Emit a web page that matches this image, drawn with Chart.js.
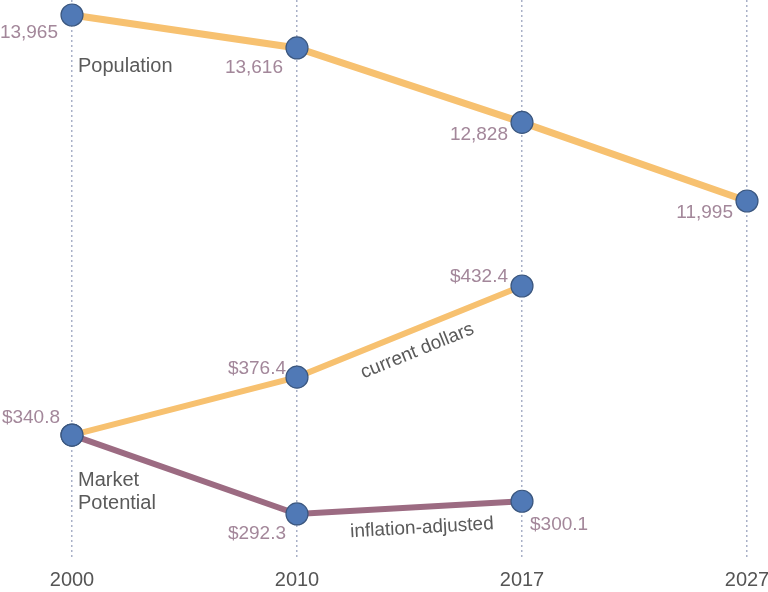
<!DOCTYPE html>
<html>
<head>
<meta charset="utf-8">
<script src="https://cdn.jsdelivr.net/npm/chart.js@4"></script>
<style>
  html, body { margin: 0; padding: 0; background: #fff; }
  #wrap { width: 768px; height: 592px; }
</style>
</head>
<body>
<div id="wrap"><canvas id="myChart"></canvas></div>
<script>
const years = ["2000", "2010", "2017", "2027"];
const population = [13965, 13616, 12828, 11995];
const currentDollars = [340.8, 376.4, 432.4, null];
const inflationAdjusted = [340.8, 292.3, 300.1, null];

// label placement for each point: [dx, dy, align]
const popLabelPos = [[-14, 18, "right"], [-14, 20, "right"], [-14, 12, "right"], [-14, 12, "right"]];
const curLabelPos = [[-12, -17, "right"], [-11, -8, "right"], [-14, -9, "right"]];
const infLabelPos = [null, [-11, 20, "right"], [8, 23, "left"]];

const valueColor = "#a3879a";
const noteColor = "#5a5a5a";
const valueFont = "19px 'Liberation Sans', Arial, sans-serif";
const noteFont = "20px 'Liberation Sans', Arial, sans-serif";

function fmtPop(v) { return v.toLocaleString("en-US"); }
function fmtMoney(v) { return "$" + v.toFixed(1); }

const labelPlugin = {
  id: "labels",
  afterDatasetsDraw(chart) {
    const ctx = chart.ctx;
    ctx.save();
    ctx.font = valueFont;
    ctx.textBaseline = "middle";
    ctx.fillStyle = valueColor;

    const groups = [
      [0, population, popLabelPos, fmtPop],
      [1, currentDollars, curLabelPos, fmtMoney],
      [2, inflationAdjusted, infLabelPos, fmtMoney],
    ];
    groups.forEach(function (g) {
      const meta = chart.getDatasetMeta(g[0]);
      g[1].forEach(function (v, i) {
        const pos = g[2][i];
        if (v === null || !pos) return;
        const pt = meta.data[i];
        ctx.textAlign = pos[2];
        ctx.fillText(g[3](v), pt.x + pos[0], pt.y + pos[1]);
      });
    });

    // annotations
    const popMeta = chart.getDatasetMeta(0);
    const curMeta = chart.getDatasetMeta(1);
    const infMeta = chart.getDatasetMeta(2);
    ctx.font = noteFont;
    ctx.fillStyle = noteColor;
    ctx.textAlign = "left";
    ctx.fillText("Population", popMeta.data[0].x + 6, popMeta.data[0].y + 51);
    ctx.fillText("Market", curMeta.data[0].x + 6, curMeta.data[0].y + 45);
    ctx.fillText("Potential", curMeta.data[0].x + 6, curMeta.data[0].y + 68);

    function along(text, a, b, offset, t) {
      const ang = Math.atan2(b.y - a.y, b.x - a.x);
      const mx = a.x + (b.x - a.x) * t;
      const my = a.y + (b.y - a.y) * t;
      ctx.save();
      ctx.translate(mx - Math.sin(ang) * offset, my + Math.cos(ang) * offset);
      ctx.rotate(ang);
      ctx.textAlign = "center";
      ctx.fillText(text, 0, 0);
      ctx.restore();
    }
    ctx.font = valueFont;
    along("current dollars", curMeta.data[1], curMeta.data[2], 21, 0.5);
    along("inflation-adjusted", infMeta.data[1], infMeta.data[2], 21, 0.55);
    ctx.restore();
  },
};

const pointStyle = {
  pointRadius: 11,
  pointHoverRadius: 11,
  pointBackgroundColor: "#5079b6",
  pointBorderColor: "#3b577f",
  pointBorderWidth: 1.2,
};

const ctx = document.getElementById("myChart").getContext("2d");
new Chart(ctx, {
  type: "line",
  data: {
    labels: years,
    datasets: [
      Object.assign({
        label: "Population",
        data: population,
        yAxisID: "yPop",
        borderColor: "#f7c170",
        borderWidth: 7,
      }, pointStyle),
      Object.assign({
        label: "current dollars",
        data: currentDollars,
        yAxisID: "yMoney",
        borderColor: "#f7c170",
        borderWidth: 6,
      }, pointStyle),
      Object.assign({
        label: "inflation-adjusted",
        data: inflationAdjusted,
        yAxisID: "yMoney",
        borderColor: "#9c6b82",
        borderWidth: 6,
      }, pointStyle),
    ],
  },
  options: {
    responsive: true,
    maintainAspectRatio: false,
    animation: false,
    clip: false,
    layout: { autoPadding: false, padding: { left: 72, right: 21, top: 0, bottom: 0 } },
    plugins: { legend: { display: false }, tooltip: { enabled: false } },
    scales: {
      x: {
        type: "category",
        offset: false,
        afterFit: function (scale) {
          scale.height = 32;
          scale.paddingLeft = 0;
          scale.paddingRight = 0;
        },
        grid: {
          color: "rgba(140,150,180,0.75)",
          lineWidth: 1.5,
          drawTicks: false,
        },
        border: { display: false, dash: [2, 3] },
        ticks: {
          color: "#555",
          padding: 8,
          font: { family: "'Liberation Sans', Arial, sans-serif", size: 20 },
          maxRotation: 0,
        },
      },
      yPop: { display: false, min: 8192, max: 14124 },
      yMoney: { display: false, min: 264, max: 608.2 },
    },
  },
  plugins: [labelPlugin],
});
</script>
</body>
</html>
